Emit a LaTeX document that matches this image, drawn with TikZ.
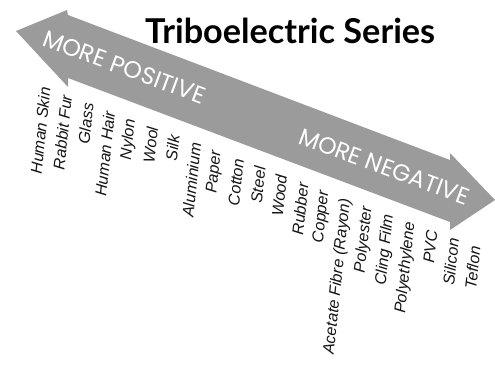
\documentclass[tikz,border=0pt]{standalone}
\usepackage{fontspec}
\setmainfont{Liberation Sans}
\newfontfamily\titlefont{Lato}
\newfontfamily\arrowfont{Poppins}
\definecolor{arrowgray}{RGB}{155,155,155}
\definecolor{inkblack}{RGB}{20,20,20}
\begin{document}
\begin{tikzpicture}[x=1pt,y=-1pt,
  matlabel/.style={font=\itshape\fontsize{16}{16}\selectfont, text=inkblack, rotate=84, anchor=east, inner sep=0pt},
  arrowtext/.style={text=white, inner sep=0pt, anchor=base west, rotate=-20.3},
  titletext/.style={inner sep=0pt, anchor=base west, text=black}]
\useasboundingbox (0,0) rectangle (495,368);
% double-headed arrow
\fill[arrowgray] (16,31) -- (67,10) -- (68,15) -- (450,160) -- (450,153) -- (495,200)
  -- (450,230) -- (450,222) -- (68,78) -- (68,87) -- cycle;
% title
\node[titletext] (title) at (145,43) {\resizebox{290pt}{!}{\titlefont\bfseries Triboelectric Series}};
% arrow labels
\node[arrowtext] (pos) at (41,45) {\resizebox{171pt}{!}{\arrowfont MORE POSITIVE}};
\node[arrowtext] (neg) at (297,143) {\resizebox{180pt}{!}{\arrowfont MORE NEGATIVE}};
% materials
\foreach \t [count=\i from 0] in {Human Skin, Rabbit Fur, Glass, Human Hair, Nylon, Wool, Silk, Aluminium, Paper, Cotton, Steel, Wood, Rubber, Copper, Acetate Fibre (Rayon), Polyester, Cling Film, Polyethylene, PVC, Silicon, Teflon}{
  \pgfmathsetmacro\xx{45+21.5*\i}
  \pgfmathsetmacro\yy{87+7.955*\i}
  \node[matlabel] (m\i) at (\xx,\yy) {\t};
}
\end{tikzpicture}
\end{document}
